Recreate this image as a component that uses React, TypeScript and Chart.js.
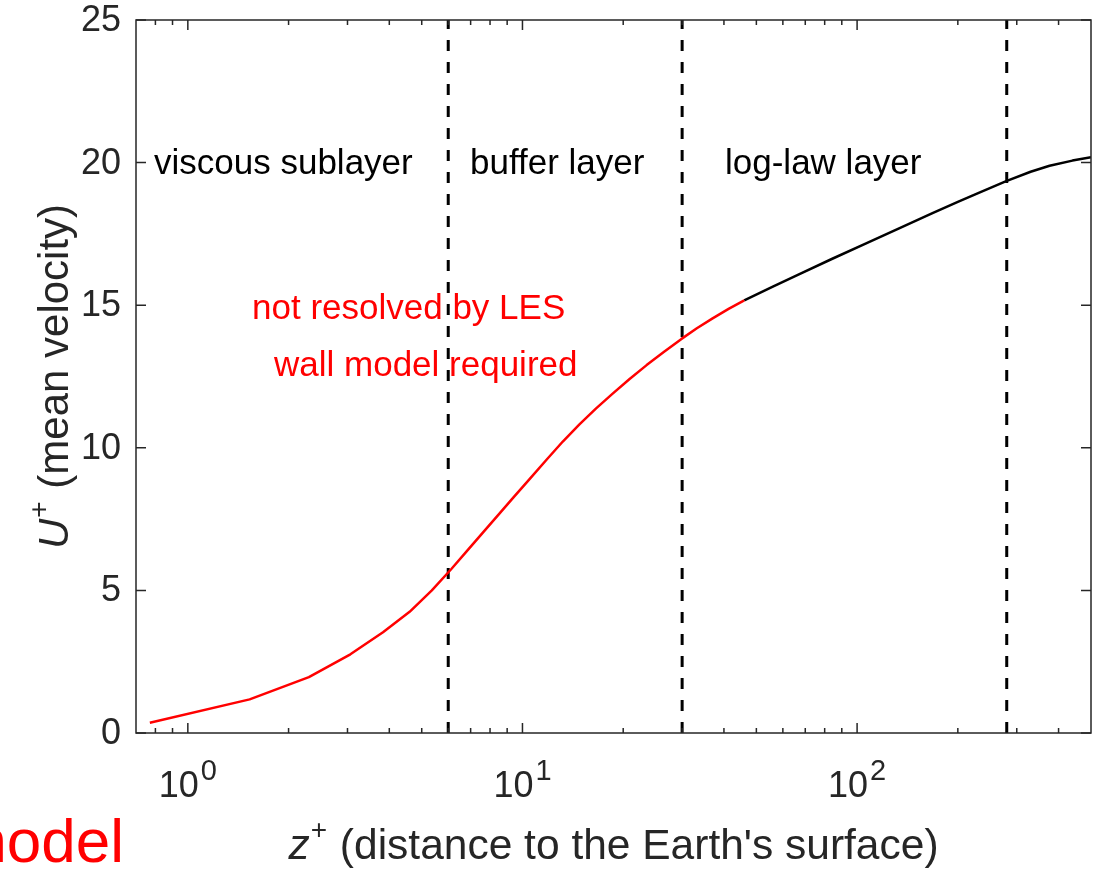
import React, { useEffect, useRef } from "react";
import { Chart, registerables } from "chart.js";

Chart.register(...registerables);

// ---- data ----
const xMin = 0.7;
const xMax = 500;
const yMin = 0;
const yMax = 25;
const yTicks = [0, 5, 10, 15, 20, 25];
const xMajorTicks = [1, 10, 100];
const xMajorExponents = ["0", "1", "2"];
const xMinorTicks = [0.8, 0.9, 2, 3, 4, 5, 6, 7, 8, 9, 20, 30, 40, 50, 60, 70, 80, 90, 200, 300, 400];
const boundaryZ = [6, 30, 280];

const redZ = [0.77, 1.53, 2.3, 3.06, 3.83, 4.6, 5.36, 6.13, 6.89, 7.66, 8.43, 9.4, 10.5, 11.8, 13.2, 14.8, 16.6, 18.6, 20.9, 23.5, 26.5, 29.8, 33.2, 37, 41.3, 46];
const redU = [0.36, 1.18, 1.96, 2.76, 3.53, 4.25, 5.0, 5.75, 6.44, 7.06, 7.62, 8.26, 8.9, 9.58, 10.22, 10.82, 11.38, 11.9, 12.41, 12.9, 13.37, 13.81, 14.19, 14.54, 14.87, 15.17];
const blackZ = [46, 56, 67, 84, 106, 134, 168, 200, 230, 279, 330, 376, 440, 500];
const blackU = [15.17, 15.65, 16.08, 16.62, 17.16, 17.7, 18.23, 18.62, 18.93, 19.35, 19.68, 19.89, 20.07, 20.19];

const layerLabels = ["viscous sublayer", "buffer layer", "log-law layer"];
const redNotes = ["not resolved by LES", "wall model required"];

const FONT = "'Liberation Sans', Arial, Helvetica, sans-serif";
const AXIS_COLOR = "#262626";

const overlayPlugin = {
  id: "matlabAxes",
  afterDraw(chart: any) {
    const { ctx, chartArea } = chart;
    const xs = chart.scales.x;
    const ys = chart.scales.y;
    const { left, right, top, bottom } = chartArea;
    ctx.save();
    // box
    ctx.strokeStyle = AXIS_COLOR;
    ctx.lineWidth = 1.5;
    ctx.setLineDash([]);
    ctx.strokeRect(left, top, right - left, bottom - top);
    // y ticks
    ctx.fillStyle = AXIS_COLOR;
    ctx.font = `36px ${FONT}`;
    ctx.textAlign = "right";
    ctx.textBaseline = "middle";
    yTicks.forEach((v) => {
      const py = ys.getPixelForValue(v);
      ctx.beginPath();
      ctx.moveTo(left, py);
      ctx.lineTo(left + 10, py);
      ctx.moveTo(right, py);
      ctx.lineTo(right - 10, py);
      ctx.stroke();
      ctx.fillText(String(v), left - 15, py + 1);
    });
    // x minor ticks
    xMinorTicks.forEach((v) => {
      const px = xs.getPixelForValue(v);
      ctx.beginPath();
      ctx.moveTo(px, bottom);
      ctx.lineTo(px, bottom - 5);
      ctx.moveTo(px, top);
      ctx.lineTo(px, top + 5);
      ctx.stroke();
    });
    // x major ticks + labels
    ctx.textBaseline = "alphabetic";
    ctx.textAlign = "left";
    xMajorTicks.forEach((v, i) => {
      const px = xs.getPixelForValue(v);
      ctx.beginPath();
      ctx.moveTo(px, bottom);
      ctx.lineTo(px, bottom - 10);
      ctx.moveTo(px, top);
      ctx.lineTo(px, top + 10);
      ctx.stroke();
      ctx.font = `36px ${FONT}`;
      const w1 = ctx.measureText("10").width;
      ctx.font = `29px ${FONT}`;
      const w2 = ctx.measureText(xMajorExponents[i]).width;
      const x0 = px - (w1 + w2 + 2) / 2;
      ctx.font = `36px ${FONT}`;
      ctx.fillText("10", x0, 797);
      ctx.font = `29px ${FONT}`;
      ctx.fillText(xMajorExponents[i], x0 + w1 + 2, 780);
    });

    // x axis label
    {
      ctx.font = `italic 42.5px ${FONT}`;
      const wz = ctx.measureText("z").width;
      ctx.font = `28px ${FONT}`;
      const wp = ctx.measureText("+").width;
      ctx.font = `42.5px ${FONT}`;
      const rest = " (distance to the Earth's surface)";
      const wr = ctx.measureText(rest).width;
      const total = wz + wp + 2 + wr;
      const cx = (left + right) / 2;
      let x0 = cx - total / 2;
      const by = 859;
      ctx.font = `italic 42.5px ${FONT}`;
      ctx.fillText("z", x0, by);
      x0 += wz + 1;
      ctx.font = `28px ${FONT}`;
      ctx.fillText("+", x0, by - 20);
      x0 += wp + 1;
      ctx.font = `42.5px ${FONT}`;
      ctx.fillText(rest, x0, by);
    }
    // y axis label
    {
      ctx.save();
      ctx.translate(68, (top + bottom) / 2);
      ctx.rotate(-Math.PI / 2);
      ctx.font = `italic 42px ${FONT}`;
      const wu = ctx.measureText("U").width;
      ctx.font = `28px ${FONT}`;
      const wp = ctx.measureText("+").width;
      ctx.font = `42px ${FONT}`;
      const rest = " (mean velocity)";
      const wr = ctx.measureText(rest).width;
      const total = wu + wp + 2 + wr;
      let x0 = -total / 2;
      ctx.font = `italic 42px ${FONT}`;
      ctx.fillText("U", x0, 0);
      x0 += wu + 1;
      ctx.font = `28px ${FONT}`;
      ctx.fillText("+", x0, -20);
      x0 += wp + 1;
      ctx.font = `42px ${FONT}`;
      ctx.fillText(rest, x0, 0);
      ctx.restore();
    }

    // layer labels
    ctx.fillStyle = "#000000";
    ctx.font = `35px ${FONT}`;
    ctx.textAlign = "left";
    ctx.fillText(layerLabels[0], 154, 174);
    ctx.fillText(layerLabels[1], 470, 174);
    ctx.fillText(layerLabels[2], 725, 174);

    // red notes
    ctx.fillStyle = "#FF0000";
    ctx.fillText(redNotes[0], 252, 319);
    ctx.fillText(redNotes[1], 274, 376);

    // clipped "model" text
    ctx.font = `62px ${FONT}`;
    ctx.textAlign = "right";
    ctx.fillText("model", 124, 862);
    ctx.restore();
  },
};

export default function App() {
  const ref = useRef<HTMLCanvasElement | null>(null);
  useEffect(() => {
    document.body.style.margin = "0";
    const canvas = ref.current;
    if (!canvas) return;
    const boundarySets = boundaryZ.map((z) => ({
      data: [
        { x: z, y: yMin },
        { x: z, y: yMax },
      ],
      borderColor: "#000000",
      borderWidth: 3,
      borderDash: [11, 11],
      pointRadius: 0,
      fill: false,
    }));
    const chart = new Chart(canvas, {
      type: "line",
      data: {
        datasets: [
          {
            data: redZ.map((z, i) => ({ x: z, y: redU[i] })),
            borderColor: "#FF0000",
            borderWidth: 2.5,
            pointRadius: 0,
            tension: 0,
            borderJoinStyle: "round",
            fill: false,
          },
          {
            data: blackZ.map((z, i) => ({ x: z, y: blackU[i] })),
            borderColor: "#000000",
            borderWidth: 2.5,
            pointRadius: 0,
            tension: 0,
            borderJoinStyle: "round",
            fill: false,
          },
          ...boundarySets,
        ],
      } as any,
      options: {
        responsive: false,
        animation: false,
        layout: { padding: { left: 136, top: 20, right: 8, bottom: 140 } },
        scales: {
          x: { type: "logarithmic", min: xMin, max: xMax, display: false },
          y: { type: "linear", min: yMin, max: yMax, display: false },
        },
        plugins: { legend: { display: false }, tooltip: { enabled: false } },
      } as any,
      plugins: [overlayPlugin],
    });
    return () => chart.destroy();
  }, []);
  return (
    <div style={{ width: 1099, height: 873, background: "#fff" }}>
      <canvas ref={ref} width={1099} height={873} style={{ display: "block" }} />
    </div>
  );
}
